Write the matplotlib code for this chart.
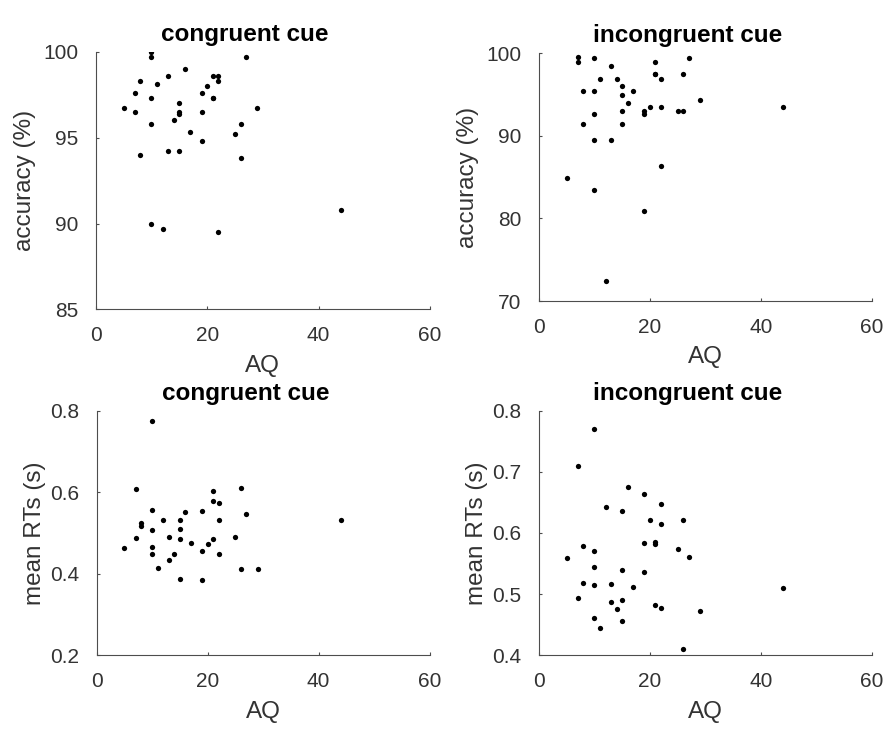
import matplotlib
matplotlib.use("Agg")
import matplotlib.pyplot as plt

# AQ score per participant (sorted)
aq = [5, 7, 7, 8, 8, 10, 10, 10, 10, 10, 11, 12, 13, 13, 14, 15, 15, 15, 15,
      16, 17, 19, 19, 19, 20, 21, 21, 21, 22, 22, 22, 25, 26, 26, 27, 29, 44]

acc_congruent = [96.7, 97.6, 96.5, 98.3, 94.0, 100.0, 99.7, 97.3, 95.8, 90.0,
                 98.1, 89.7, 98.6, 94.2, 96.0, 97.0, 96.5, 96.4, 94.2,
                 99.0, 95.3, 97.6, 96.5, 94.8, 98.0, 98.6, 97.3, 97.3,
                 98.6, 98.3, 89.5, 95.2, 95.8, 93.8, 99.7, 96.7, 90.8]

acc_incongruent = [84.9, 99.5, 99.0, 95.4, 91.5, 99.4, 95.4, 92.6, 89.5, 83.4,
                   96.9, 72.4, 98.5, 89.5, 96.9, 96.0, 94.9, 93.0, 91.5,
                   94.0, 95.4, 93.0, 92.6, 80.9, 93.5, 99.0, 97.5, 97.5,
                   96.9, 93.5, 86.4, 93.0, 97.5, 93.0, 99.4, 94.4, 93.5]

rt_congruent = [0.464, 0.608, 0.487, 0.525, 0.517, 0.775, 0.557, 0.507, 0.465, 0.449,
                0.415, 0.533, 0.491, 0.433, 0.449, 0.532, 0.510, 0.486, 0.388,
                0.552, 0.475, 0.554, 0.457, 0.384, 0.474, 0.603, 0.578, 0.486,
                0.573, 0.533, 0.448, 0.491, 0.611, 0.411, 0.546, 0.411, 0.532]

rt_incongruent = [0.559, 0.709, 0.493, 0.578, 0.518, 0.770, 0.570, 0.545, 0.515, 0.461,
                  0.444, 0.642, 0.517, 0.487, 0.476, 0.636, 0.539, 0.491, 0.456,
                  0.675, 0.512, 0.663, 0.584, 0.537, 0.622, 0.585, 0.582, 0.483,
                  0.647, 0.615, 0.477, 0.574, 0.622, 0.411, 0.561, 0.473, 0.510]

x_ticks = [0, 20, 40, 60]

panels = [
    # values, title, ylabel, ylim, yticks, ytick labels, axes rect, ylabel x
    (acc_congruent, "congruent cue", "accuracy (%)", (85, 100),
     [85, 90, 95, 100], ["85", "90", "95", "100"],
     [0.1084, 0.5818, 0.3786, 0.3484], -0.18),
    (acc_incongruent, "incongruent cue", "accuracy (%)", (70, 100),
     [70, 80, 90, 100], ["70", "80", "90", "100"],
     [0.6104, 0.5932, 0.3768, 0.3347], -0.18),
    (rt_congruent, "congruent cue", "mean RTs (s)", (0.2, 0.8),
     [0.2, 0.4, 0.6, 0.8], ["0.2", "0.4", "0.6", "0.8"],
     [0.1095, 0.1145, 0.3770, 0.3305], -0.152),
    (rt_incongruent, "incongruent cue", "mean RTs (s)", (0.4, 0.8),
     [0.4, 0.5, 0.6, 0.7, 0.8], ["0.4", "0.5", "0.6", "0.7", "0.8"],
     [0.6104, 0.1145, 0.3768, 0.3305], -0.152),
]

plt.rcParams['font.family'] = ['Liberation Sans', 'DejaVu Sans']

fig = plt.figure(figsize=(8.83, 7.40), dpi=100)
axis_col = '#4d4d4d'
text_col = '#333333'

for vals, title, ylabel, ylim, yticks, ylabels, rect, ylab_x in panels:
    ax = fig.add_axes(rect)
    ax.plot(aq, vals, 'o', color='black', markersize=3.8, markeredgewidth=0)
    ax.set_xlim(0, 60)
    ax.set_ylim(*ylim)
    ax.set_xticks(x_ticks)
    ax.set_yticks(yticks)
    ax.set_yticklabels(ylabels)
    for side in ['top', 'right']:
        ax.spines[side].set_visible(False)
    for side in ['left', 'bottom']:
        ax.spines[side].set_color(axis_col)
        ax.spines[side].set_linewidth(0.8)
    ax.tick_params(direction='in', length=2.5, width=0.8, color=axis_col,
                   labelcolor=text_col, labelsize=15)
    ax.tick_params(axis='x', pad=12)
    ax.tick_params(axis='y', pad=12.5)
    ax.set_xlabel("AQ", fontsize=17.5, color=text_col, labelpad=7)
    ax.set_ylabel(ylabel, fontsize=17.5, color=text_col)
    ax.yaxis.set_label_coords(ylab_x, 0.5)
    ax.set_title(title, fontsize=17.5, fontweight='bold', color='black',
                 x=0.447, pad=8)

fig.savefig("out.png", dpi=100)
